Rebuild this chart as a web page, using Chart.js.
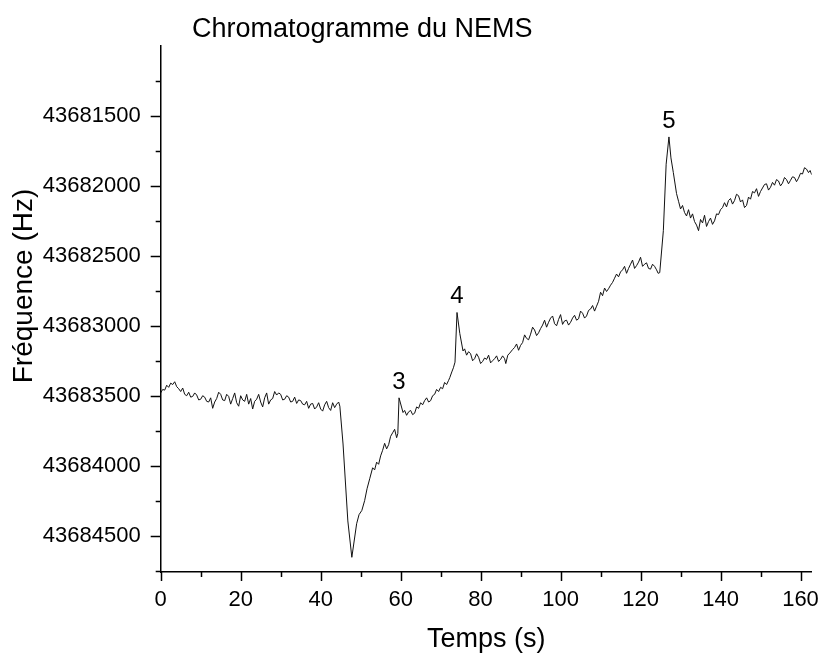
<!DOCTYPE html>
<html>
<head>
<meta charset="utf-8">
<title>Chromatogramme du NEMS</title>
<script src="https://cdn.jsdelivr.net/npm/chart.js@4.4.1/dist/chart.umd.min.js"></script>
<style>
    html, body { margin: 0; padding: 0; background: #fff; }
    #wrap { width: 821px; height: 655px; }
</style>
</head>
<body>
<div id="wrap"><canvas id="chart" width="821" height="655"></canvas></div>
<script>
// Chromatogramme du NEMS - fréquence de résonance en fonction du temps

// Temps (s)
const times = [
    0, 0.5, 1, 1.5, 2, 2.5, 3, 3.5, 4, 4.5,
    5, 5.5, 6, 6.5, 7, 7.5, 8, 8.5, 9, 9.5,
    10, 10.5, 11, 11.5, 12, 12.5, 13, 13.5, 14, 14.5,
    15, 15.5, 16, 16.5, 17, 17.5, 18, 18.5, 19, 19.5,
    20, 20.5, 21, 21.5, 22, 22.5, 23, 23.5, 24, 24.5,
    25, 25.5, 26, 26.5, 27, 27.5, 28, 28.5, 29, 29.5,
    30, 30.5, 31, 31.5, 32, 32.5, 33, 33.5, 34, 34.5,
    35, 35.5, 36, 36.5, 37, 37.5, 38, 38.5, 39, 39.5,
    40, 40.5, 41, 41.5, 42, 42.5, 43, 43.5, 44, 44.5,
    44.8, 45.6, 46.8, 47.8, 49, 49.6, 50.3, 51, 51.6, 52.3,
    53, 53.5, 54, 54.5, 55, 55.5, 56, 56.5, 57, 57.5,
    58, 58.5, 59, 59.3, 59.6, 60.6, 61, 61.5, 62, 62.5,
    63, 63.5, 64, 64.5, 65, 65.5, 66, 66.5, 67, 67.5,
    68, 68.5, 69, 69.5, 70, 70.5, 71, 71.5, 72, 72.3,
    72.8, 73.2, 73.6, 74.1, 74.8, 75.6, 76, 76.5, 77, 77.5,
    78, 78.5, 79, 79.5, 80, 80.5, 81, 81.5, 82, 82.5,
    83, 83.5, 84, 84.5, 85, 85.5, 86, 86.3, 86.8, 87.3,
    88, 88.5, 89, 89.5, 90, 90.5, 91, 91.5, 92, 92.5,
    93, 93.5, 94, 94.5, 95, 95.5, 96, 96.5, 97, 97.5,
    98, 98.5, 99, 99.5, 100, 100.5, 101, 101.5, 102, 102.5,
    103, 103.5, 104, 104.5, 105, 105.5, 106, 106.5, 107, 107.5,
    108, 108.5, 109, 109.5, 110, 110.5, 111, 111.5, 112, 112.5,
    113, 113.5, 114, 114.5, 115, 115.5, 116, 116.5, 117, 117.5,
    118, 118.5, 119, 119.5, 120, 120.5, 121, 121.5, 122, 122.5,
    123, 123.5, 124, 124.4, 124.8, 125.7, 126.4, 127.1, 127.6, 128.2,
    129, 129.5, 130, 130.5, 131, 131.5, 132, 132.5, 133, 133.5,
    134, 134.5, 135, 135.5, 136, 136.5, 137, 137.5, 138, 138.5,
    139, 139.5, 140, 140.5, 141, 141.5, 142, 142.5, 143, 143.5,
    144, 144.5, 145, 145.5, 146, 146.5, 147, 147.5, 148, 148.5,
    149, 149.5, 150, 150.5, 151, 151.5, 152, 152.5, 153, 153.5,
    154, 154.5, 155, 155.5, 156, 156.5, 157, 157.5, 158, 158.5,
    159, 159.5, 160, 160.5, 161, 161.5, 162, 162.4, 162.8
];

// Fréquence (Hz)
const freqs = [
    43683480, 43683455, 43683460, 43683425, 43683440, 43683410, 43683420, 43683400, 43683435, 43683450,
    43683470, 43683445, 43683490, 43683500, 43683475, 43683510, 43683505, 43683480, 43683495, 43683530,
    43683525, 43683500, 43683510, 43683540, 43683545, 43683515, 43683590, 43683545, 43683520, 43683475,
    43683490, 43683530, 43683535, 43683490, 43683505, 43683560, 43683520, 43683480, 43683550, 43683575,
    43683500, 43683530, 43683540, 43683490, 43683560, 43683520, 43683595, 43683540, 43683525, 43683490,
    43683545, 43683580, 43683515, 43683480, 43683560, 43683530, 43683520, 43683470, 43683495, 43683480,
    43683490, 43683530, 43683525, 43683500, 43683510, 43683545, 43683540, 43683510, 43683555, 43683530,
    43683535, 43683560, 43683565, 43683540, 43683590, 43683560, 43683555, 43683595, 43683580, 43683550,
    43683595, 43683610, 43683565, 43683540, 43683585, 43683605, 43683550, 43683585, 43683560, 43683545,
    43683575, 43683845, 43684395, 43684655, 43684415, 43684350, 43684320, 43684250, 43684165, 43684090,
    43684015, 43684030, 43683975, 43683990, 43683930, 43683890, 43683840, 43683880, 43683850, 43683790,
    43683765, 43683740, 43683800, 43683770, 43683515, 43683620, 43683605, 43683640, 43683615, 43683605,
    43683635, 43683625, 43683580, 43683590, 43683550, 43683565, 43683535, 43683515, 43683545, 43683535,
    43683500, 43683490, 43683455, 43683470, 43683440, 43683450, 43683405, 43683420, 43683390, 43683370,
    43683330, 43683300, 43683260, 43682905, 43683055, 43683180, 43683165, 43683210, 43683185, 43683200,
    43683250, 43683235, 43683200, 43683225, 43683270, 43683255, 43683230, 43683240, 43683210, 43683265,
    43683250, 43683235, 43683215, 43683255, 43683240, 43683215, 43683235, 43683270, 43683210, 43683195,
    43683170, 43683155, 43683130, 43683175, 43683140, 43683120, 43683065, 43683090, 43683100, 43683060,
    43683010, 43683030, 43683070, 43683050, 43683020, 43682995, 43682960, 43683010, 43682975, 43682945,
    43682930, 43682985, 43683000, 43682955, 43682920, 43682990, 43682965, 43682960, 43682995, 43682975,
    43682945, 43682925, 43682960, 43682950, 43682895, 43682910, 43682945, 43682930, 43682890, 43682880,
    43682855, 43682895, 43682860, 43682825, 43682760, 43682785, 43682730, 43682755, 43682735, 43682710,
    43682690, 43682660, 43682630, 43682650, 43682615, 43682600, 43682575, 43682625, 43682590, 43682560,
    43682530, 43682590, 43682570, 43682545, 43682510, 43682575, 43682560, 43682550, 43682590, 43682595,
    43682560, 43682575, 43682600, 43682625, 43682620, 43682320, 43681845, 43681650, 43681800, 43681905,
    43682055, 43682110, 43682165, 43682140, 43682190, 43682215, 43682170, 43682230, 43682200, 43682255,
    43682280, 43682320, 43682240, 43682265, 43682210, 43682290, 43682255, 43682230, 43682275, 43682250,
    43682200, 43682205, 43682170, 43682155, 43682120, 43682150, 43682105, 43682090, 43682130, 43682105,
    43682060, 43682070, 43682115, 43682100, 43682155, 43682140, 43682080, 43682095, 43682040, 43682050,
    43682020, 43682075, 43682040, 43682015, 43681990, 43681985, 43682030, 43682010, 43681975, 43681995,
    43681955, 43681965, 43682000, 43681980, 43681940, 43681955, 43681985, 43681960, 43681935, 43681940,
    43681970, 43681945, 43681910, 43681915, 43681870, 43681880, 43681905, 43681890, 43681920
];

const xTickValues = [0, 20, 40, 60, 80, 100, 120, 140, 160];
const yTickValues = [43681500, 43682000, 43682500, 43683000, 43683500, 43684000, 43684500];

// Pics numérotés
const peakLabels = ['3', '4', '5'];
const peakTimes = [59.6, 74.1, 127.1];

const FONT = 'Arial, "Liberation Sans", sans-serif';

// Graduations mineures, numéros des pics et titres
const decorPlugin = {
    id: 'decor',
    afterDraw(chart) {
        const ctx = chart.ctx;
        const xs = chart.scales.x;
        const ys = chart.scales.y;
        const area = chart.chartArea;

        ctx.save();
        ctx.strokeStyle = '#000';
        ctx.lineWidth = 1.5;

        // axe X : majeures tous les 20, mineures tous les 10
        for (let v = 0; v <= xs.max; v += 10) {
            const px = Math.round(xs.getPixelForValue(v)) + 0.5;
            const len = v % 20 === 0 ? 9 : 5;
            ctx.beginPath();
            ctx.moveTo(px, area.bottom);
            ctx.lineTo(px, area.bottom + len);
            ctx.stroke();
        }

        // axe Y : majeures tous les 500, mineures tous les 250
        for (let v = 43681250; v <= ys.max; v += 250) {
            const py = Math.round(ys.getPixelForValue(v)) + 0.5;
            const len = v % 500 === 0 ? 10 : 5;
            ctx.beginPath();
            ctx.moveTo(area.left, py);
            ctx.lineTo(area.left - len, py);
            ctx.stroke();
        }

        ctx.fillStyle = '#000';

        // numéros des pics
        ctx.font = '24px ' + FONT;
        ctx.textAlign = 'center';
        ctx.textBaseline = 'alphabetic';
        peakTimes.forEach((t, i) => {
            const idx = times.indexOf(t);
            const px = xs.getPixelForValue(t);
            const py = ys.getPixelForValue(freqs[idx]);
            ctx.fillText(peakLabels[i], px, py - 9);
        });

        // titre
        ctx.font = '27px ' + FONT;
        ctx.textAlign = 'left';
        ctx.fillText('Chromatogramme du NEMS', 192, 37);

        // titre axe X
        ctx.textAlign = 'center';
        ctx.fillText('Temps (s)', (area.left + area.right) / 2, 647);

        // titre axe Y
        ctx.translate(32, 286);
        ctx.rotate(-Math.PI / 2);
        ctx.font = '28px ' + FONT;
        ctx.fillText('Fréquence (Hz)', 0, 0);

        ctx.restore();
    }
};

const points = times.map((t, i) => ({ x: t, y: freqs[i] }));

new Chart(document.getElementById('chart'), {
    type: 'line',
    data: {
        datasets: [{
            data: points,
            borderColor: '#111',
            borderWidth: 1,
            pointRadius: 0,
            tension: 0,
            fill: false
        }]
    },
    options: {
        responsive: false,
        animation: false,
        layout: {
            padding: { top: 46, right: 9.3, bottom: 0, left: 0 }
        },
        plugins: {
            legend: { display: false },
            tooltip: { enabled: false },
            title: { display: false }
        },
        scales: {
            x: {
                type: 'linear',
                min: 0,
                max: 162.8,
                afterBuildTicks: scale => {
                    scale.ticks = xTickValues.map(v => ({ value: v }));
                },
                afterFit: scale => {
                    scale.height = 83;
                    scale.paddingLeft = 0;
                    scale.paddingRight = 0;
                },
                grid: { display: false, drawTicks: false },
                border: { display: true, color: '#000', width: 1.5 },
                ticks: {
                    color: '#000',
                    font: { family: FONT, size: 22 },
                    padding: 15,
                    maxRotation: 0,
                    autoSkip: false,
                    callback: value => String(value)
                }
            },
            y: {
                type: 'linear',
                reverse: true,
                min: 43681000,
                max: 43684760,
                afterBuildTicks: scale => {
                    scale.ticks = yTickValues.map(v => ({ value: v }));
                },
                afterFit: scale => {
                    scale.width = 160.7;
                    scale.paddingTop = 0;
                    scale.paddingBottom = 0;
                },
                grid: { display: false, drawTicks: false },
                border: { display: true, color: '#000', width: 1.5 },
                ticks: {
                    color: '#000',
                    font: { family: FONT, size: 22 },
                    padding: 20,
                    autoSkip: false,
                    callback: value => String(value)
                }
            }
        }
    },
    plugins: [decorPlugin]
});
</script>
</body>
</html>
